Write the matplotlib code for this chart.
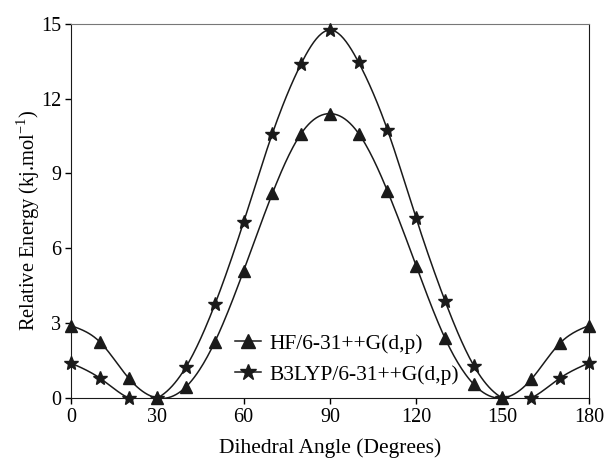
"""Relative energy vs dihedral angle for two levels of theory"""
import numpy as np
import matplotlib
matplotlib.use('Agg')
import matplotlib.pyplot as plt

# data
angle = [0, 10, 20, 30, 40, 50, 60, 70, 80, 90, 100, 110, 120, 130, 140, 150, 160, 170, 180]
hf = [2.9, 2.25, 0.8, 0.0, 0.45, 2.25, 5.1, 8.2, 10.6, 11.4, 10.6, 8.3, 5.3, 2.4, 0.55, 0.0, 0.75, 2.2, 2.9]
b3lyp = [1.4, 0.8, 0.0, 0.0, 1.25, 3.75, 7.05, 10.6, 13.4, 14.75, 13.45, 10.75, 7.2, 3.9, 1.3, 0.0, 0.0, 0.8, 1.4]
labels = ['HF/6-31++G(d,p)', 'B3LYP/6-31++G(d,p)']
x_ticks = [0, 30, 60, 90, 120, 150, 180]
y_ticks = [0, 3, 6, 9, 12, 15]


def spline(x, y, n=400):
    """natural cubic spline through the points, for a smooth line only"""
    x = np.asarray(x, float)
    y = np.asarray(y, float)
    k = len(x)
    h = np.diff(x)
    a = np.zeros((k, k))
    r = np.zeros(k)
    a[0, 0] = a[-1, -1] = 1
    for i in range(1, k - 1):
        a[i, i - 1] = h[i - 1]
        a[i, i] = 2 * (h[i - 1] + h[i])
        a[i, i + 1] = h[i]
        r[i] = 6 * ((y[i + 1] - y[i]) / h[i] - (y[i] - y[i - 1]) / h[i - 1])
    m = np.linalg.solve(a, r)
    xs = np.linspace(x[0], x[-1], n)
    idx = np.clip(np.searchsorted(x, xs) - 1, 0, k - 2)
    t0 = x[idx + 1] - xs
    t1 = xs - x[idx]
    hh = h[idx]
    ys = (m[idx] * t0**3 + m[idx + 1] * t1**3) / (6 * hh) \
        + (y[idx] / hh - m[idx] * hh / 6) * t0 \
        + (y[idx + 1] / hh - m[idx + 1] * hh / 6) * t1
    return xs, ys


plt.rcParams['font.family'] = ['Liberation Serif', 'DejaVu Serif']
plt.rcParams['mathtext.fontset'] = 'custom'
plt.rcParams['mathtext.rm'] = 'Liberation Serif'

fig = plt.figure(figsize=(6.07, 4.58), dpi=100)
ax = fig.add_axes([0.117, 0.131, 0.853, 0.817])

for yv, mk, ms, lab in [(hf, '^', 8, labels[0]), (b3lyp, '*', 10, labels[1])]:
    xs, ys = spline(angle, yv)
    ax.plot(xs, ys, color='#1a1a1a', linewidth=1.1)
    ax.plot(angle, yv, linestyle='none', marker=mk, markersize=ms,
            color='#1a1a1a', clip_on=False, zorder=3)
    # proxy for the legend (line + marker)
    ax.plot([], [], color='#1a1a1a', linewidth=1.1, marker=mk,
            markersize=ms + 2, label=lab)

ax.set_xlim(0, 180)
ax.set_ylim(0, 15)
ax.set_xticks(x_ticks)
ax.set_yticks(y_ticks)
ax.tick_params(direction='out', length=4, width=1, labelsize=14.5, pad=3)
for side in ['left', 'bottom', 'right']:
    ax.spines[side].set_color('#1a1a1a')
ax.spines['top'].set_color('#777777')

ax.set_xlabel('Dihedral Angle (Degrees)', fontsize=15.5, labelpad=8)
ax.set_ylabel('Relative Energy (kj.mol$^{-1}$)', fontsize=14.8)
ax.yaxis.set_label_coords(-0.056, 0.475)

ax.legend(loc='center left', bbox_to_anchor=(0.28, 0.104), frameon=False,
          fontsize=15.5, handlelength=1.2, handletextpad=0.4,
          labelspacing=0.5, borderpad=0.4)

plt.savefig('out.png', dpi=100)
